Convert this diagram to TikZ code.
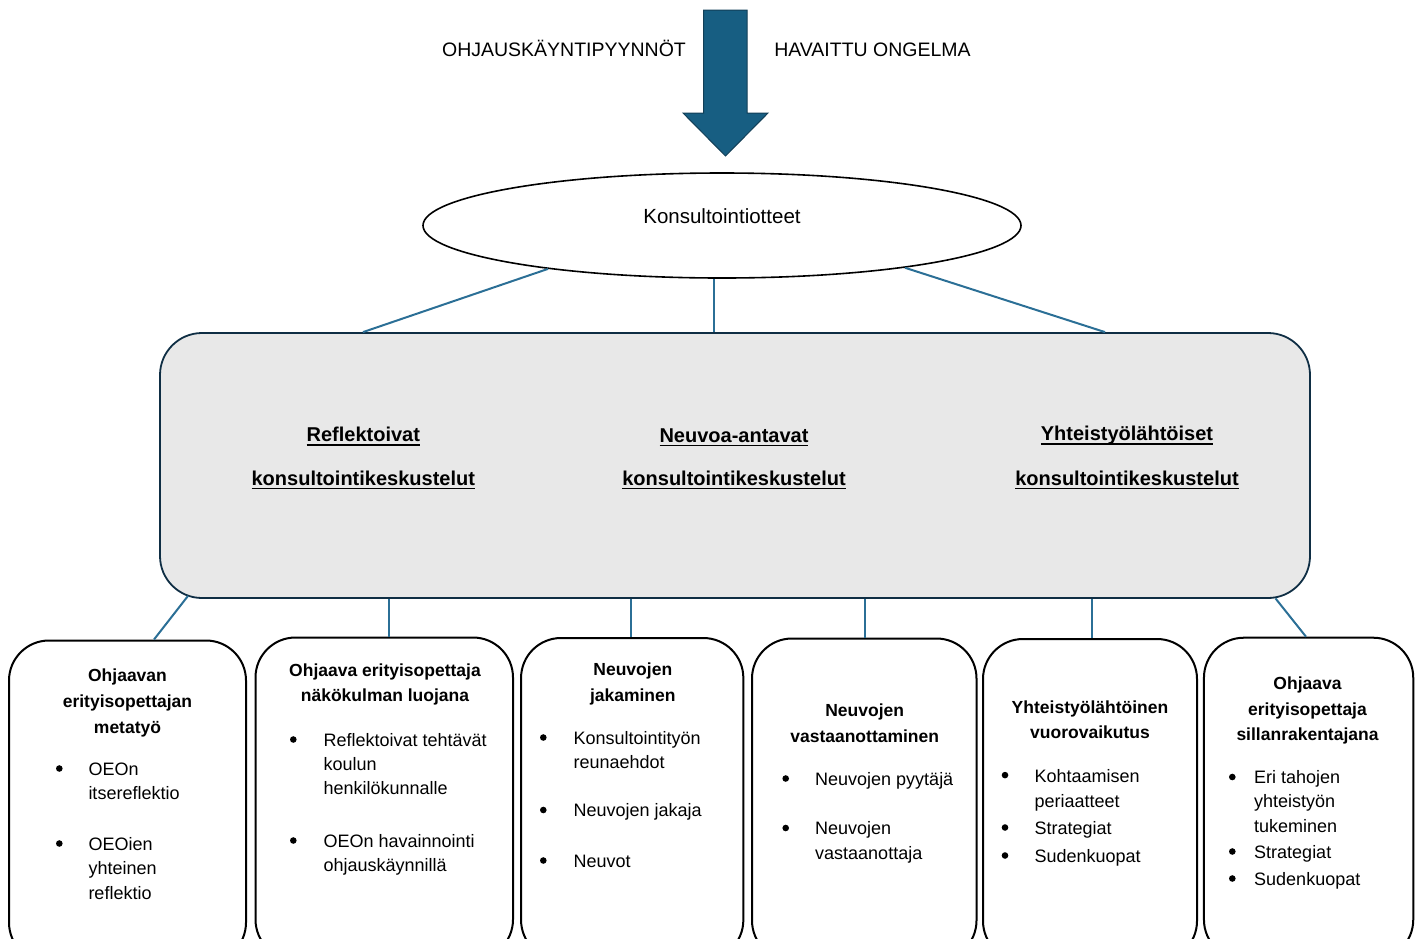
\documentclass[tikz,border=0pt]{standalone}
\usepackage{fontspec}
\setmainfont{Liberation Sans}
\usetikzlibrary{shapes.geometric}
\definecolor{arrowfill}{HTML}{175E82}
\definecolor{arrowdraw}{HTML}{123F57}
\definecolor{conncol}{HTML}{2B6F96}
\definecolor{bigfill}{HTML}{E8E8E8}
\definecolor{bigdraw}{HTML}{0F2E44}
\newcommand{\fsz}[2]{\fontsize{#1}{#2}\selectfont}
\newcommand{\myul}[1]{\setbox0\hbox{#1}\rlap{\raisebox{-4.3pt}{\rule{\wd0}{1.7pt}}}\box0}
\newcommand{\itm}[4]{\node[item] (#1) at (#2,#3) {#4};}
\newcommand{\ttl}[4]{\node[ttlstyle] (#1) at (#2,#3) {#4};}
\newcommand{\bul}[3]{\node[bulstyle] (#1) at (#2,#3-0.5) {};}
\begin{document}
\begin{tikzpicture}[x=1pt,y=-1pt,
  connector/.style={draw=conncol, line width=2pt},
  item/.style={anchor=west, inner sep=0pt, font=\fsz{18}{22}, text height=12.9pt, text depth=0pt},
  ttlstyle/.style={anchor=center, inner sep=0pt, font=\fsz{17.5}{21}\bfseries, text height=12.5pt, text depth=0pt},
  bulstyle/.style={circle, fill=black, draw=none, inner sep=0pt, minimum size=6.6pt},
  hdr/.style={anchor=center, inner sep=0pt, font=\fsz{20}{24}\bfseries, text height=14.3pt, text depth=0pt},
  toplabel/.style={anchor=center, inner sep=0pt, font=\fsz{19.5}{24}, text height=14pt, text depth=0pt},
  subbox/.style={draw=black, line width=2pt, rounded corners=40pt, fill=white, minimum height=322pt, inner sep=0pt},
]
\useasboundingbox (0,0) rectangle (1418,938);
\clip (0,0) rectangle (1418,938);

% top arrow
\draw[fill=arrowfill, draw=arrowdraw, line width=1pt, line join=miter]
  (703.5,10) -- (747,10) -- (747,113) -- (768,113) -- (725.5,156) -- (683,113) -- (703.5,113) -- cycle;
\node[toplabel] (req) at (564,49) {OHJAUSKÄYNTIPYYNNÖT};
\node[toplabel] (prob) at (872.5,49) {HAVAITTU ONGELMA};

% ellipse
\node[ellipse, draw=black, line width=1.6pt, fill=white, minimum width=598pt, minimum height=105pt, inner sep=0pt] (ell) at (722,225.5) {};
\node[anchor=center, inner sep=0pt, font=\fsz{20.5}{24}, text height=14.7pt, text depth=0pt] (ellt) at (722,216.3) {Konsultointiotteet};

% big box
\node[draw=bigdraw, fill=bigfill, line width=1.8pt, rounded corners=42pt, minimum width=1150pt, minimum height=265pt, inner sep=0pt] (big) at (735,465.5) {};

% connectors ellipse -> big box
\draw[connector] (ell.194.3) -- ([xshift=-372pt]big.north);
\draw[connector] ([xshift=-8pt]ell.south) -- ([xshift=-21pt]big.north);
\draw[connector] (ell.-13.8) -- ([xshift=370pt]big.north);

% headers
\node[hdr] (h1a) at (363.3,434.7) {\myul{Reflektoivat}};
\node[hdr] (h1b) at (363.3,478) {\myul{konsultointikeskustelut}};
\node[hdr] (h2a) at (734,435) {\myul{Neuvoa-antavat}};
\node[hdr] (h2b) at (734,478) {\myul{konsultointikeskustelut}};
\node[hdr] (h3a) at (1127,433.7) {\myul{Yhteistyölähtöiset}};
\node[hdr] (h3b) at (1127,478) {\myul{konsultointikeskustelut}};

% sub boxes
\node[subbox, minimum width=237pt] (b1) at (127.5,801.5) {};
\node[subbox, minimum width=257.5pt] (b2) at (384.25,798.5) {};
\node[subbox, minimum width=222.3pt] (b3) at (632.2,799) {};
\node[subbox, minimum width=224.5pt] (b4) at (864.25,799.5) {};
\node[subbox, minimum width=214pt] (b5) at (1090,800) {};
\node[subbox, minimum width=209.3pt] (b6) at (1308.6,798.7) {};

% connectors big box -> sub boxes
\draw[connector] ([xshift=-547pt,yshift=3pt]big.south) -- ([xshift=26.5pt]b1.north);
\draw[connector] ([xshift=4.75pt]b2.north) -- ([xshift=-346pt]big.south);
\draw[connector] ([xshift=-1.5pt]b3.north) -- ([xshift=-104.3pt]big.south);
\draw[connector] ([xshift=0.25pt]b4.north) -- ([xshift=129.5pt]big.south);
\draw[connector] ([xshift=1.7pt]b5.north) -- ([xshift=356.7pt]big.south);
\draw[connector] ([xshift=540.5pt,yshift=0.5pt]big.south) -- ([xshift=-2.6pt]b6.north);

% box 1
\ttl{t1a}{127.5}{675}{Ohjaavan}
\ttl{t1b}{127.5}{701.5}{erityisopettajan}
\ttl{t1c}{127.5}{727}{metatyö}
\bul{u1a}{59.3}{769}
\bul{u1b}{59.3}{844}
\itm{i1a}{88.3}{769}{OEOn}
\itm{i1b}{88.3}{793}{itsereflektio}
\itm{i1c}{88.3}{844}{OEOien}
\itm{i1d}{88.3}{868.5}{yhteinen}
\itm{i1e}{88.3}{893}{reflektio}

% box 2
\ttl{t2a}{385}{670}{Ohjaava erityisopettaja}
\ttl{t2b}{385}{695.5}{näkökulman luojana}
\bul{u2a}{293.3}{740}
\bul{u2b}{293.3}{841}
\itm{i2a}{323.3}{740}{Reflektoivat tehtävät}
\itm{i2b}{323.3}{764}{koulun}
\itm{i2c}{323.3}{788}{henkilökunnalle}
\itm{i2d}{323.3}{841}{OEOn havainnointi}
\itm{i2e}{323.3}{865}{ohjauskäynnillä}

% box 3
\ttl{t3a}{632.8}{669.4}{Neuvojen}
\ttl{t3b}{632.8}{695.4}{jakaminen}
\bul{u3a}{543.3}{738}
\bul{u3b}{543.3}{810.5}
\bul{u3c}{543.3}{861}
\itm{i3a}{573.3}{738}{Konsultointityön}
\itm{i3b}{573.3}{762}{reunaehdot}
\itm{i3c}{573.3}{810.5}{Neuvojen jakaja}
\itm{i3d}{573.3}{861}{Neuvot}

% box 4
\ttl{t4a}{864.7}{710.7}{Neuvojen}
\ttl{t4b}{864.7}{736.3}{vastaanottaminen}
\bul{u4a}{785.7}{779}
\bul{u4b}{785.7}{828.5}
\itm{i4a}{815}{779}{Neuvojen pyytäjä}
\itm{i4b}{815}{828.5}{Neuvojen}
\itm{i4c}{815}{853}{vastaanottaja}

% box 5
\ttl{t5a}{1090}{707}{Yhteistyölähtöinen}
\ttl{t5b}{1090}{732.7}{vuorovaikutus}
\bul{u5a}{1005}{775.6}
\bul{u5b}{1005}{828}
\bul{u5c}{1005}{856}
\itm{i5a}{1034.3}{775.6}{Kohtaamisen}
\itm{i5b}{1034.3}{801}{periaatteet}
\itm{i5c}{1034.3}{828}{Strategiat}
\itm{i5d}{1034.3}{856}{Sudenkuopat}

% box 6
\ttl{t6a}{1307.5}{683.3}{Ohjaava}
\ttl{t6b}{1307.5}{709.3}{erityisopettaja}
\ttl{t6c}{1307.5}{734.5}{sillanrakentajana}
\bul{u6a}{1232.3}{777.5}
\bul{u6b}{1232.3}{852}
\bul{u6c}{1232.3}{879}
\itm{i6a}{1254}{777.5}{Eri tahojen}
\itm{i6b}{1254}{801}{yhteistyön}
\itm{i6c}{1254}{826}{tukeminen}
\itm{i6d}{1254}{852}{Strategiat}
\itm{i6e}{1254}{879}{Sudenkuopat}
\end{tikzpicture}
\end{document}
